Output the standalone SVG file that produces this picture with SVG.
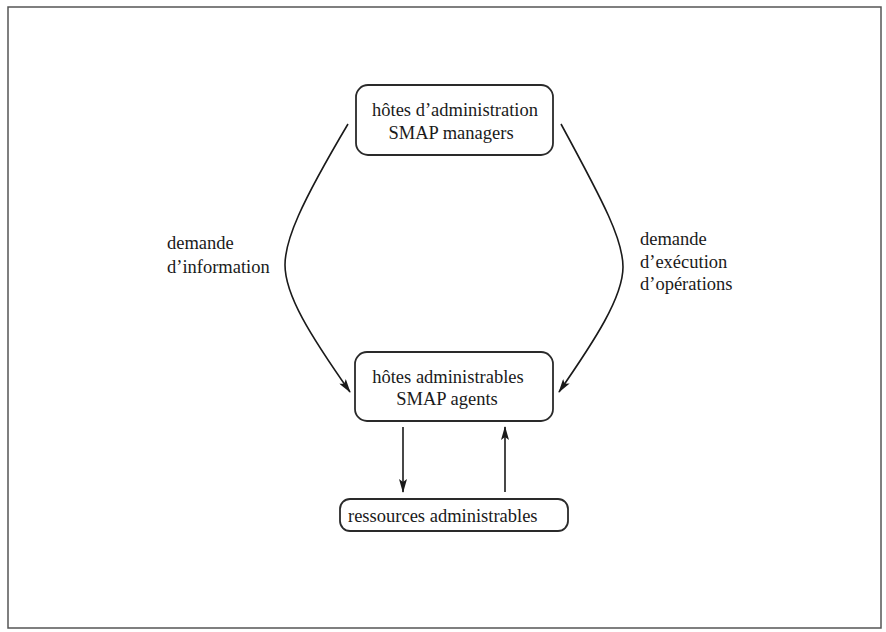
<svg xmlns="http://www.w3.org/2000/svg" width="886" height="632" viewBox="0 0 886 632">
  <defs>
    <style>
      .frame { fill: none; stroke: #555; stroke-width: 1.5; }
      .box { fill: #fff; stroke: #2a2a2a; stroke-width: 1.8; }
      .lbl { font-family: "Liberation Serif", "Times New Roman", serif; font-size: 18.5px; fill: #1a1a1a; }
      .mid { text-anchor: middle; }
      .conn { fill: none; stroke: #1a1a1a; stroke-width: 1.6; }
    </style>
    <marker id="arr" viewBox="0 0 14 8" refX="13" refY="4" markerWidth="14" markerHeight="8" markerUnits="userSpaceOnUse" orient="auto">
      <path d="M0,0 L14,4 L0,8 L3,4 Z" fill="#1a1a1a"/>
    </marker>
  </defs>
  <rect width="886" height="632" fill="#fff"/>
  <rect class="frame" x="8" y="7" width="873" height="621"/>

  <g id="managers">
    <rect class="box" x="356" y="85" width="197" height="70" rx="12" ry="12"/>
    <text class="lbl mid" x="455" y="116">hôtes d’administration</text>
    <text class="lbl mid" x="451" y="139">SMAP managers</text>
  </g>

  <g id="agents">
    <rect class="box" x="355" y="352" width="198" height="69" rx="12" ry="12"/>
    <text class="lbl mid" x="448" y="383">hôtes administrables</text>
    <text class="lbl mid" x="447" y="405">SMAP agents</text>
  </g>

  <g id="ressources">
    <rect class="box" x="340" y="499" width="228" height="32" rx="10" ry="10"/>
    <text class="lbl" x="348" y="522">ressources administrables</text>
  </g>

  <g id="connectors">
    <path class="conn" d="M348,124 C300,205 285,240 285,265 C285,295 310,335 350,392" marker-end="url(#arr)"/>
    <path class="conn" d="M561,124 C605,205 623,240 623,267 C623,297 595,340 559,392" marker-end="url(#arr)"/>
    <path class="conn" d="M403,427 L403,492" marker-end="url(#arr)"/>
    <path class="conn" d="M505,492 L505,427" marker-end="url(#arr)"/>
  </g>

  <g id="labels">
    <text class="lbl" x="167" y="249">demande</text>
    <text class="lbl" x="167" y="273">d’information</text>
    <text class="lbl" x="640" y="245">demande</text>
    <text class="lbl" x="640" y="268">d’exécution</text>
    <text class="lbl" x="640" y="290">d’opérations</text>
  </g>
</svg>
